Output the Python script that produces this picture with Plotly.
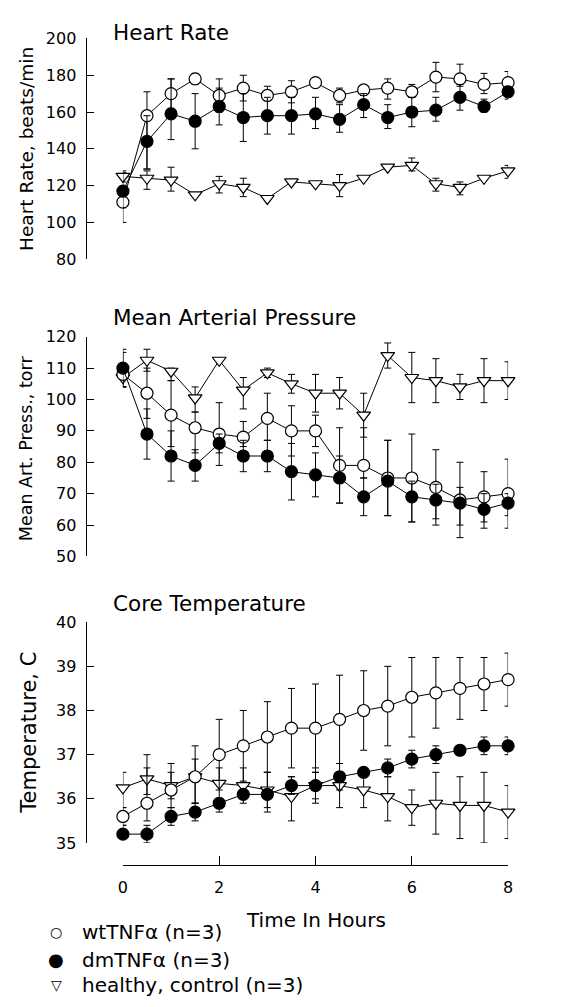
import plotly.graph_objects as go

# ---------------- data ----------------
hours = [0, 0.5, 1, 1.5, 2, 2.5, 3, 3.5, 4, 4.5, 5, 5.5, 6, 6.5, 7, 7.5, 8]

hr_wt = [111, 158, 170, 178, 169, 173, 169, 171, 176, 169, 172, 173, 171, 179, 178, 175, 176]
hr_wt_hi = [120, 171, 178, 181, 178, 180, 174, 177, 177, 173, 174, 178, 175, 187, 186, 181, 182]
hr_wt_lo = [100, 129, 162, 175, 160, 166, 167, 165, 175, 165, 169, 167, 168, 171, 174, 170, 170]
hr_dm = [117, 144, 159, 155, 163, 157, 158, 158, 159, 156, 164, 157, 160, 161, 168, 163, 171]
hr_dm_hi = [127, 158, 178, 170, 173, 170, 168, 168, 168, 164, 170, 164, 168, 168, 175, 167, 174]
hr_dm_lo = [108, 129, 145, 140, 153, 144, 148, 148, 151, 149, 157, 151, 152, 155, 161, 160, 167]
hr_ctl = [125, 124, 123, 115, 121, 119, 113, 122, 121, 120, 124, 130, 131, 121, 119, 124, 128]
hr_ctl_hi = [128, 128, 130, 115, 125, 124, 113, 122, 121, 126, 124, 130, 135, 124, 122, 124, 131]
hr_ctl_lo = [122, 118, 117, 115, 116, 114, 113, 122, 121, 114, 124, 130, 128, 117, 115, 124, 124]

map_wt = [108, 102, 95, 91, 89, 88, 94, 90, 90, 79, 79, 75, 75, 72, 68, 69, 70]
map_wt_hi = [115, 110, 106, 96, 99, 93, 102, 98, 95, 91, 91, 87, 89, 84, 80, 77, 81]
map_wt_lo = [104, 94, 85, 83, 83, 85, 87, 82, 85, 67, 75, 63, 61, 62, 60, 61, 63]
map_dm = [110, 89, 82, 79, 86, 82, 82, 77, 76, 75, 69, 74, 69, 68, 67, 65, 67]
map_dm_hi = [116, 97, 90, 84, 89, 87, 87, 86, 83, 82, 75, 87, 74, 73, 72, 70, 70]
map_dm_lo = [104, 81, 74, 74, 79, 77, 77, 68, 69, 67, 63, 63, 61, 60, 56, 59, 59]
map_ctl = [107, 112.5, 109, 100.5, 112.5, 103, 108.5, 105, 102, 102, 95, 114, 107, 106, 104, 106, 106]
map_ctl_hi = [110, 116, 110, 104, 112.5, 107, 110, 108, 108, 107, 102, 118, 115, 113, 108, 113, 112]
map_ctl_lo = [104, 109, 106, 96, 112.5, 97, 107, 102, 96, 97, 88, 110, 99, 99, 100, 99, 100]

tmp_wt = [35.6, 35.9, 36.2, 36.5, 37.0, 37.2, 37.4, 37.6, 37.6, 37.8, 38.0, 38.1, 38.3, 38.4, 38.5, 38.6, 38.7]
tmp_wt_hi = [35.8, 37.0, 36.8, 37.2, 37.8, 38.0, 38.2, 38.5, 38.6, 38.8, 38.9, 39.0, 39.2, 39.2, 39.2, 39.2, 39.3]
tmp_wt_lo = [35.4, 35.5, 35.8, 35.9, 36.2, 36.4, 36.6, 36.7, 36.6, 36.8, 37.1, 37.2, 37.4, 37.6, 37.8, 38.0, 38.1]
tmp_dm = [35.2, 35.2, 35.6, 35.7, 35.9, 36.1, 36.1, 36.3, 36.3, 36.5, 36.6, 36.7, 36.9, 37.0, 37.1, 37.2, 37.2]
tmp_dm_hi = [35.4, 35.4, 35.8, 35.9, 36.0, 36.2, 36.6, 36.5, 36.7, 36.8, 36.7, 36.9, 37.1, 37.2, 37.2, 37.4, 37.4]
tmp_dm_lo = [35.1, 35.0, 35.4, 35.5, 35.7, 35.9, 35.7, 36.1, 35.9, 36.2, 36.5, 36.5, 36.7, 36.8, 37.0, 37.0, 37.0]
tmp_ctl = [36.25, 36.45, 36.3, 36.5, 36.35, 36.3, 36.2, 36.05, 36.3, 36.3, 36.2, 36.05, 35.8, 35.9, 35.85, 35.85, 35.7]
tmp_ctl_hi = [36.6, 36.7, 36.6, 36.9, 36.7, 36.7, 36.6, 36.5, 36.6, 36.6, 36.6, 36.5, 36.2, 36.6, 36.5, 36.6, 36.3]
tmp_ctl_lo = [35.8, 36.1, 36.0, 35.9, 36.0, 36.0, 35.8, 35.5, 36.0, 35.8, 35.8, 35.5, 35.4, 35.2, 35.1, 35.0, 35.1]

panel_titles = ["Heart Rate", "Mean Arterial Pressure", "Core Temperature"]
y_titles = ["Heart Rate, beats/min", "Mean Art. Press., torr", "Temperature, C"]
x_title = "Time In Hours"
x_ticks = [0, 2, 4, 6, 8]
hr_ticks = [80, 100, 120, 140, 160, 180, 200]
map_ticks = [50, 60, 70, 80, 90, 100, 110, 120]
tmp_ticks = [35, 36, 37, 38, 39, 40]
legend_labels = ["wtTNF\u03b1 (n=3)", "dmTNF\u03b1 (n=3)", "healthy, control (n=3)"]

# ---------------- layout helpers ----------------
W, H = 575, 1007
FONT = "DejaVu Sans"


def px_x(p):
    return p / W


def px_y(p):
    return 1 - p / H


def errs(v, hi, lo):
    return [h - a for a, h in zip(v, hi)], [a - l for a, l in zip(v, lo)]


fig = go.Figure()

panels = [
    ("y", (hr_ctl, hr_ctl_hi, hr_ctl_lo), (hr_wt, hr_wt_hi, hr_wt_lo), (hr_dm, hr_dm_hi, hr_dm_lo)),
    ("y2", (map_ctl, map_ctl_hi, map_ctl_lo), (map_wt, map_wt_hi, map_wt_lo), (map_dm, map_dm_hi, map_dm_lo)),
    ("y3", (tmp_ctl, tmp_ctl_hi, tmp_ctl_lo), (tmp_wt, tmp_wt_hi, tmp_wt_lo), (tmp_dm, tmp_dm_hi, tmp_dm_lo)),
]

styles = [
    dict(symbol="triangle-down", size=12, color="white"),
    dict(symbol="circle", size=12, color="white"),
    dict(symbol="circle", size=12, color="black"),
]

for yref, *series in panels:
    for (v, hi, lo), st in zip(series, styles):
        ep, em = errs(v, hi, lo)
        fig.add_trace(go.Scatter(
            x=hours, y=v, xaxis="x", yaxis=yref,
            mode="lines+markers",
            line=dict(color="black", width=1),
            marker=dict(symbol=st["symbol"], size=st["size"], color=st["color"],
                        line=dict(color="black", width=1.2)),
            error_y=dict(type="data", symmetric=False, array=ep, arrayminus=em,
                         color="black", thickness=1, width=3.5),
            cliponaxis=False, showlegend=False,
        ))

ypos = px_x(82)
yaxis_common = dict(
    anchor="free", position=ypos, showline=True, linecolor="black", linewidth=1,
    ticks="inside", ticklen=7, tickcolor="black", tickwidth=1,
    showgrid=False, zeroline=False, tickfont=dict(family=FONT, size=16, color="black"),
    ticklabelstandoff=6,
)

fig.update_layout(
    width=W, height=H,
    margin=dict(l=0, r=0, t=0, b=0),
    paper_bgcolor="white", plot_bgcolor="white",
    showlegend=False,
    xaxis=dict(domain=[px_x(120), px_x(512)], range=[0, 8], anchor="free",
               position=px_y(872), showline=True, linecolor="black", linewidth=1,
               ticks="inside", ticklen=9, tickcolor="black", tickvals=x_ticks,
               showgrid=False, zeroline=False,
               tickfont=dict(family=FONT, size=16, color="black"),
               ticklabelstandoff=8),
    yaxis=dict(domain=[px_y(255), px_y(30)], range=[80, 200], tickvals=hr_ticks, **yaxis_common),
    yaxis2=dict(domain=[px_y(558), px_y(334)], range=[50, 120], tickvals=map_ticks, **yaxis_common),
    yaxis3=dict(domain=[px_y(850), px_y(625)], range=[35, 40], tickvals=tmp_ticks, **yaxis_common),
)

ann = []
# panel titles
for txt, yc in zip(panel_titles, [24, 314, 606]):
    ann.append(dict(text=txt, xref="paper", yref="paper", x=px_x(108), y=px_y(yc),
                    xanchor="left", yanchor="middle", showarrow=False,
                    font=dict(family=FONT, size=21.5, color="black")))
# y titles
for txt, xc, yc, fs in zip(y_titles, [22, 21, 24], [143, 448, 738], [18.5, 17.5, 21]):
    ann.append(dict(text=txt, xref="paper", yref="paper", x=px_x(xc), y=px_y(yc),
                    xanchor="center", yanchor="middle", textangle=-90, showarrow=False,
                    font=dict(family=FONT, size=fs, color="black")))
# x title
ann.append(dict(text=x_title, xref="paper", yref="paper", x=px_x(316), y=px_y(929),
                xanchor="center", yanchor="middle", showarrow=False,
                font=dict(family=FONT, size=20, color="black")))
# legend
leg_syms = [("\u25cb", 14), ("\u25cf", 18), ("\u25bd", 14)]
for (sym, ss), lab, yc in zip(leg_syms, legend_labels, [941, 969, 995]):
    ann.append(dict(text=sym, xref="paper", yref="paper", x=px_x(52), y=px_y(yc),
                    xanchor="center", yanchor="middle", showarrow=False,
                    font=dict(family=FONT, size=ss, color="black")))
    ann.append(dict(text=lab, xref="paper", yref="paper", x=px_x(76), y=px_y(yc),
                    xanchor="left", yanchor="middle", showarrow=False,
                    font=dict(family=FONT, size=20, color="black")))

fig.update_layout(annotations=ann)
fig.write_html("out.html")
